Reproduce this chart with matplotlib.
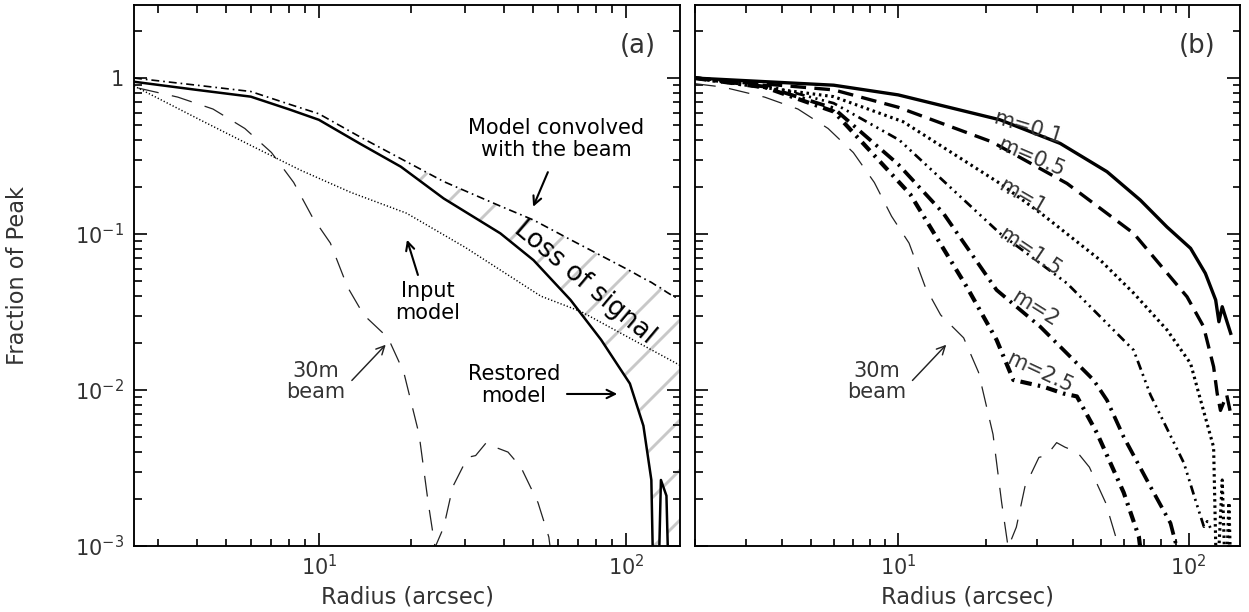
import matplotlib
matplotlib.use('Agg')
import matplotlib.pyplot as plt
from matplotlib.ticker import FixedLocator, FixedFormatter, LogLocator, NullFormatter

plt.rcParams['font.family'] = ['DejaVu Sans']
plt.rcParams['lines.scale_dashes'] = False
plt.rcParams['hatch.linewidth'] = 1.4
plt.rcParams['mathtext.fontset'] = 'dejavusans'

# ---- panel (a) ----
radius_a = [2.5, 4, 6, 8, 10, 13.6, 18.5, 25.5, 39, 50, 66, 83, 103, 114, 121, 125, 130, 135.5, 141, 150]
convolved = [1.0, 0.90, 0.82, 0.68, 0.59, 0.42, 0.304, 0.217, 0.151, 0.123, 0.092, 0.0727,
             0.0582, 0.052, 0.049, 0.047, 0.045, 0.0425, 0.0405, 0.038]
restored = [0.947, 0.84, 0.76, 0.63, 0.54, 0.38, 0.27, 0.169, 0.101, 0.068, 0.0378, 0.021,
            0.011, 0.0059, 0.00265, 1e-4, 0.00265, 0.0021, 1e-4, 1e-4]

radius_input = [2.5, 4.1, 6, 8.7, 12.7, 19.3, 30, 52.8, 71.5, 100, 150]
input_model = [0.89, 0.54, 0.37, 0.257, 0.185, 0.136, 0.082, 0.040, 0.0318, 0.0222, 0.0144]

radius_beam = [2.0, 2.5, 3.47, 4.52, 5.74, 7.01, 8.28, 9.49, 10.9, 12.4, 14.0, 16.8, 18.9,
               21.2, 22.7, 23.9, 25.5, 27.3, 30.5, 32.4, 35.1, 37.5, 41.3, 45.5, 51.7, 56.1, 58.5]
beam = [0.92, 0.875, 0.755, 0.633, 0.475, 0.333, 0.214, 0.130, 0.0875, 0.0457, 0.0303, 0.0216,
        0.013, 0.0052, 0.0019, 0.00098, 0.00132, 0.0024, 0.0037, 0.0038, 0.0046, 0.0043,
        0.0040, 0.0032, 0.0019, 0.00114, 0.0006]

# ---- panel (b) ----
r_m01 = [2, 6, 10, 22.4, 36.1, 52.3, 68.1, 84.1, 101.4, 114, 123.7, 126.9, 130.3, 139.3]
f_m01 = [1.0, 0.90, 0.78, 0.54, 0.381, 0.251, 0.165, 0.111, 0.081, 0.056, 0.0378, 0.0274, 0.0342, 0.0231]

r_m05 = [2, 6, 10, 21, 38.1, 64.6, 98.6, 112.4, 121.7, 125.2, 128.5, 135, 139]
f_m05 = [1.0, 0.84, 0.65, 0.39, 0.211, 0.101, 0.0396, 0.0255, 0.0141, 0.0095, 0.0074, 0.0093, 0.0072]

r_m1 = [2, 3, 6, 10.4, 22.4, 31.6, 49.6, 64.6, 84.1, 101.4, 108.2, 121.7, 124.8, 130.3, 134, 137.4, 140]
f_m1 = [1.0, 0.90, 0.76, 0.525, 0.211, 0.132, 0.068, 0.0418, 0.0243, 0.0148, 0.0095, 0.0043,
        0.0005, 0.00265, 0.0005, 0.0019, 0.0005]

r_m15 = [2, 3.5, 6, 10.1, 22.4, 38.1, 64.6, 73.8, 96.2, 107, 112.7, 115.7, 118.8]
f_m15 = [1.0, 0.90, 0.69, 0.40, 0.101, 0.0483, 0.018, 0.0093, 0.0034, 0.0018, 0.00133, 0.00144, 0.0013]

r_m2 = [2, 3.5, 6, 10, 14.3, 21.8, 30.8, 47, 52.3, 59.7, 73.8, 86.5, 92]
f_m2 = [1.0, 0.88, 0.64, 0.28, 0.136, 0.0438, 0.0255, 0.0116, 0.0086, 0.0050, 0.0024, 0.0014, 0.0009]

r_m25 = [2, 3.5, 6, 11, 17.2, 21.8, 24.9, 31.6, 37, 41.2, 48.3, 59.7, 67.3, 69]
f_m25 = [1.0, 0.87, 0.61, 0.18, 0.046, 0.021, 0.0116, 0.0105, 0.0095, 0.0091, 0.0053, 0.0022, 0.00115, 0.0008]

m_labels = ['m=0.1', 'm=0.5', 'm=1', 'm=1.5', 'm=2', 'm=2.5']

ytick_vals = [1e-3, 1e-2, 1e-1, 1]
ytick_labels = [r'$10^{-3}$', r'$10^{-2}$', r'$10^{-1}$', '1']
xtick_vals = [10, 100]
xtick_labels = [r'$10^{1}$', r'$10^{2}$']

grey = '#333333'
W, H = 1249, 612
fig = plt.figure(figsize=(W / 150, H / 150), dpi=150)
ax1 = fig.add_axes([134 / W, 66 / H, 546 / W, 541 / H])
ax2 = fig.add_axes([695 / W, 66 / H, 545 / W, 541 / H])

thin_arrow = dict(arrowstyle='->', color='#222222', lw=0.7, shrinkA=0, shrinkB=0)

for ax, xlo in ((ax1, 2.5), (ax2, 2.0)):
    ax.set_xscale('log')
    ax.set_yscale('log')
    ax.set_xlim(xlo, 150)
    ax.set_ylim(1e-3, 2.94)
    ax.xaxis.set_major_locator(FixedLocator(xtick_vals))
    ax.xaxis.set_major_formatter(FixedFormatter(xtick_labels))
    ax.yaxis.set_major_locator(FixedLocator(ytick_vals))
    ax.yaxis.set_major_formatter(FixedFormatter(ytick_labels))
    for axis in (ax.xaxis, ax.yaxis):
        axis.set_minor_locator(LogLocator(base=10, subs=range(2, 10), numticks=20))
        axis.set_minor_formatter(NullFormatter())
    ax.tick_params(which='both', direction='in', top=True, right=True, width=0.8,
                   labelcolor=grey, labelsize=10)
    ax.tick_params(which='major', length=6.2)
    ax.tick_params(which='minor', length=3.6)
    ax.tick_params(axis='x', pad=4)
    ax.tick_params(axis='y', pad=5)
    for s in ax.spines.values():
        s.set_linewidth(0.9)
    ax.text(0.5, -0.094, 'Radius (arcsec)', transform=ax.transAxes, ha='center', va='center',
            fontsize=10.8, color=grey)
    ax.text(0.922, 0.924, '(' + ('a' if ax is ax1 else 'b') + ')', transform=ax.transAxes,
            ha='center', va='center', fontsize=12.5, color=grey)
    # 30m beam profile
    ax.plot(radius_beam, beam, color='#222222', lw=0.6, ls=(0, (10, 6.5)))
    ax.text(0.333, 0.304, '30m\nbeam', transform=ax.transAxes, ha='center', va='center',
            fontsize=10, color=grey, linespacing=1.05)
    ax.annotate('', xy=(0.461, 0.372), xytext=(0.399, 0.306), xycoords='axes fraction',
                textcoords='axes fraction', arrowprops=thin_arrow)

ax2.tick_params(labelleft=False)
fig.text(18 / W, 1 - 275.5 / H, 'Fraction of Peak', rotation=90, ha='center', va='center',
         fontsize=10.8, color=grey)

# panel (a) curves
where = [r >= 18 for r in radius_a]
ax1.fill_between(radius_a, restored, convolved, where=where, facecolor='none',
                 edgecolor='#c8c8c8', hatch='/', linewidth=0, zorder=1)
ax1.plot(radius_a, convolved, color='black', lw=0.8, ls=(0, (3.8, 1.9, 0.8, 1.9)), zorder=3)
ax1.plot(radius_a, restored, color='black', lw=1.2, zorder=3)
ax1.plot(radius_input, input_model, color='black', lw=0.7, ls=(0, (0.6, 1.0)), zorder=3)

arrow_k = dict(arrowstyle='->', color='black', lw=1.0, shrinkA=0, shrinkB=0)
ax1.text(0.773, 0.752, 'Model convolved\nwith the beam', transform=ax1.transAxes,
         ha='center', va='center', fontsize=10, linespacing=1.1)
ax1.annotate('', xy=(0.731, 0.627), xytext=(0.758, 0.691), xycoords='axes fraction',
             textcoords='axes fraction', arrowprops=arrow_k)
ax1.text(0.538, 0.451, 'Input\nmodel', transform=ax1.transAxes, ha='center', va='center',
         fontsize=10, linespacing=1.1)
ax1.annotate('', xy=(0.5, 0.566), xytext=(0.52, 0.501), xycoords='axes fraction',
             textcoords='axes fraction', arrowprops=arrow_k)
ax1.text(0.696, 0.298, 'Restored\nmodel', transform=ax1.transAxes, ha='center', va='center',
         fontsize=10, linespacing=1.1)
ax1.annotate('', xy=(0.885, 0.281), xytext=(0.793, 0.281), xycoords='axes fraction',
             textcoords='axes fraction', arrowprops=arrow_k)
ax1.text(0.826, 0.486, 'Loss of signal', transform=ax1.transAxes, rotation=-40,
         rotation_mode='anchor', ha='center', va='center', fontsize=12.5, zorder=4)

# panel (b) curves
ax2.plot(r_m01, f_m01, color='black', lw=1.6)
ax2.plot(r_m05, f_m05, color='black', lw=1.6, ls=(0, (7.5, 4)))
ax2.plot(r_m1, f_m1, color='black', lw=1.5, ls=(0, (1.2, 1.8)))
ax2.plot(r_m15, f_m15, color='black', lw=1.3, ls=(0, (4.5, 2.2, 1, 2.2, 1, 2.2, 1, 2.2)))
ax2.plot(r_m2, f_m2, color='black', lw=1.8, ls=(0, (7, 3, 1.2, 3)))
ax2.plot(r_m25, f_m25, color='black', lw=2.0, ls=(0, (5.5, 3, 1.2, 3)))

m_pos = [(0.611, 0.774, -17), (0.617, 0.719, -23), (0.600, 0.645, -30),
         (0.615, 0.543, -34), (0.624, 0.440, -32), (0.633, 0.320, -25)]
for lab, (fx, fy, rot) in zip(m_labels, m_pos):
    ax2.text(fx, fy, lab, transform=ax2.transAxes, rotation=rot, rotation_mode='anchor',
             ha='center', va='center', fontsize=10, color=grey, zorder=4)

fig.savefig('out.png', dpi=150)
